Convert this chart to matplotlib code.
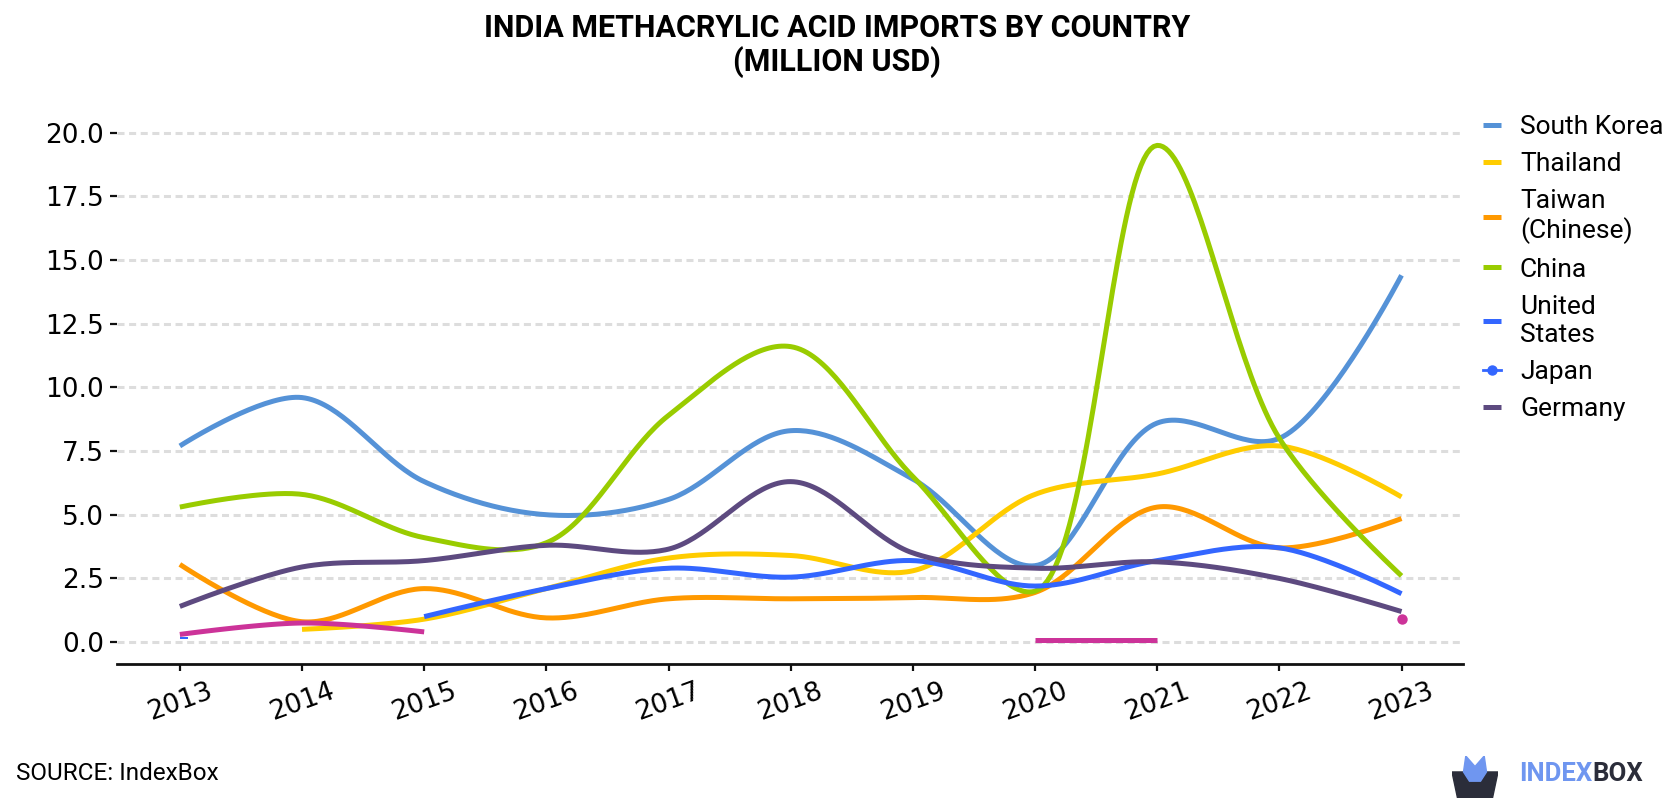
import numpy as np
import matplotlib
matplotlib.use("Agg")
import matplotlib.pyplot as plt
from matplotlib.patches import Polygon

plt.rcParams['font.family'] = ['Roboto', 'DejaVu Sans']

years = [2013, 2014, 2015, 2016, 2017, 2018, 2019, 2020, 2021, 2022, 2023]
nan = np.nan
south_korea = [7.7, 9.6, 6.3, 5.0, 5.6, 8.3, 6.4, 3.0, 8.6, 8.0, 14.4]
thailand = [nan, 0.5, 0.9, 2.1, 3.3, 3.4, 2.8, 5.8, 6.6, 7.7, 5.7]
taiwan = [3.05, 0.8, 2.1, 0.95, 1.7, 1.7, 1.75, 1.95, 5.3, 3.7, 4.85]
china = [5.3, 5.8, 4.1, 3.9, 8.9, 11.6, 6.5, 2.0, 19.5, 8.0, 2.6]
united_states = [nan, nan, 1.0, 2.1, 2.9, 2.55, 3.2, 2.2, 3.2, 3.7, 1.9]
japan = [0.15, nan, nan, nan, nan, nan, nan, nan, nan, nan, nan]
germany = [1.4, 2.95, 3.2, 3.8, 3.65, 6.3, 3.5, 2.9, 3.15, 2.5, 1.2]
other = [0.3, 0.75, 0.4, nan, nan, nan, nan, 0.1, 0.1, nan, 0.9]

series = [
    ("South Korea", south_korea, "#5592d7"),
    ("Thailand", thailand, "#ffcc00"),
    ("Taiwan\n(Chinese)", taiwan, "#ff9900"),
    ("China", china, "#99cc00"),
    ("United\nStates", united_states, "#3366ff"),
    ("Japan", japan, "#3366ff"),
    ("Germany", germany, "#5d4a80"),
    (None, other, "#cc3399"),
]

fig = plt.figure(figsize=(16.8, 8), dpi=100)
ax = fig.add_axes([0.0696, 0.17, 0.801, 0.696])
ax.set_xlim(2012.485, 2023.5)
ax.set_ylim(-0.86, 21.0)


def centripetal_path(pts, alpha=0.5, n=40):
    pts = [np.asarray(p, float) for p in pts]
    if len(pts) == 2:
        return np.array(pts)
    eps = 1e-12
    out = [pts[0]]
    t = np.linspace(0, 1, n)[1:, None]
    for i in range(len(pts) - 1):
        p1, p2 = pts[i], pts[i + 1]
        p0 = pts[i - 1] if i > 0 else None
        p3 = pts[i + 2] if i + 2 < len(pts) else None
        l12 = np.linalg.norm(p2 - p1)
        l12_a, l12_2a = l12 ** alpha, l12 ** (2 * alpha)
        c1 = p1.copy()
        if p0 is not None:
            l01 = np.linalg.norm(p1 - p0)
            l01_a, l01_2a = l01 ** alpha, l01 ** (2 * alpha)
            if l01_a > eps:
                a = 2 * l01_2a + 3 * l01_a * l12_a + l12_2a
                nn = 3 * l01_a * (l01_a + l12_a)
                c1 = (p1 * a - p0 * l12_2a + p2 * l01_2a) / nn
        c2 = p2.copy()
        if p3 is not None:
            l23 = np.linalg.norm(p3 - p2)
            l23_a, l23_2a = l23 ** alpha, l23 ** (2 * alpha)
            if l23_a > eps:
                b = 2 * l23_2a + 3 * l23_a * l12_a + l12_2a
                m = 3 * l23_a * (l23_a + l12_a)
                c2 = (p2 * b + p1 * l23_2a - p3 * l12_2a) / m
        seg = ((1 - t) ** 3) * p1 + 3 * ((1 - t) ** 2) * t * c1 + 3 * (1 - t) * t ** 2 * c2 + t ** 3 * p2
        out.extend(seg)
    return np.array(out)


dash_marker = [(0, -0.3), (2.0, -0.3), (2.0, 0.3), (0, 0.3), (0, -0.3)]

handles = []
for name, vals, col in series:
    vals = np.asarray(vals, float)
    segs, cur = [], []
    for x, v in zip(years, vals):
        if np.isnan(v):
            if cur:
                segs.append(cur)
            cur = []
        else:
            cur.append((x, v))
    if cur:
        segs.append(cur)
    for seg in segs:
        if len(seg) == 1:
            if name == "Japan":
                ax.plot([seg[0][0]], [seg[0][1]], marker=dash_marker, color=col, ms=12, mew=0, zorder=3)
            else:
                ax.plot([seg[0][0]], [seg[0][1]], 'o', color=col, ms=7.5, mew=0, zorder=3)
        else:
            disp = ax.transData.transform(np.array(seg))
            path = centripetal_path(disp)
            data = ax.transData.inverted().transform(path)
            ax.plot(data[:, 0], data[:, 1], color=col, lw=3.6, solid_capstyle='butt',
                    solid_joinstyle='round', zorder=3)
    if name is not None:
        if name == "Japan":
            lh, = ax.plot([], [], color=col, lw=2, marker='o', ms=6.5)
        else:
            lh, = ax.plot([], [], color=col, lw=3.6, solid_capstyle='butt')
        handles.append((lh, name))

ax.set_yticks([0, 2.5, 5, 7.5, 10, 12.5, 15, 17.5, 20])
ax.set_yticklabels(["0.0", "2.5", "5.0", "7.5", "10.0", "12.5", "15.0", "17.5", "20.0"],
                   fontsize=19, family='DejaVu Sans')
ax.set_xticks(years)
ax.set_xticklabels([str(y) for y in years], fontsize=19, rotation=20, family='DejaVu Sans')
ax.grid(axis='y', color='#dddddd', lw=2.2, ls=(0, (2.3, 1.5)), zorder=0)
ax.grid(axis='x', visible=False)
for s in ['top', 'right', 'left']:
    ax.spines[s].set_visible(False)
ax.spines['bottom'].set_color('#111111')
ax.spines['bottom'].set_linewidth(2)
ax.tick_params(axis='y', length=5, width=1.6, color='#111111', pad=4.3)
ax.tick_params(axis='x', length=5, width=1.6, color='#111111', pad=5)

leg = fig.legend([h for h, _ in handles], [n for _, n in handles], loc='upper left',
                 bbox_to_anchor=(1483 / 1680, 1 - 115 / 800), bbox_transform=fig.transFigure,
                 frameon=False, fontsize=19, handlelength=0.7, handletextpad=0.7,
                 labelspacing=0.5, borderpad=0, borderaxespad=0)

fig.text(0.498, 1 - 45.5 / 800, "INDIA METHACRYLIC ACID IMPORTS BY COUNTRY\n(MILLION USD)",
         ha='center', va='center', fontsize=22, fontweight='bold', linespacing=1.1)
fig.text(16 / 1680, 1 - 774 / 800, "SOURCE: IndexBox", ha='left', va='center', fontsize=17.5)

# logo
renderer = fig.canvas.get_renderer()
t1 = fig.text(1519 / 1680, 1 - 774 / 800, "INDEX", ha='left', va='center', fontsize=18.5,
              fontweight='bold', color='#6f96f0')
bb = t1.get_window_extent(renderer)
fig.text(bb.x1 / 1680, 1 - 774 / 800, "BOX", ha='left', va='center', fontsize=18.5,
         fontweight='bold', color='#2b2d3a')
lx = fig.add_axes([1452 / 1680, 1 - 798 / 800, 46 / 1680, 42 / 800])
lx.set_xlim(0, 1)
lx.set_ylim(0, 1)
lx.axis('off')
lx.add_patch(Polygon([[0.0, 0.62], [1.0, 0.62], [0.88, 0.0], [0.12, 0.0]], closed=True, color='#2b2d3a'))
lx.add_patch(Polygon([[0.25, 0.62], [0.3, 1.0], [0.5, 0.75], [0.7, 1.0], [0.75, 0.62], [0.62, 0.4], [0.38, 0.4]],
                     closed=True, color='#6f96f0'))

fig.savefig("out.png", dpi=100)
